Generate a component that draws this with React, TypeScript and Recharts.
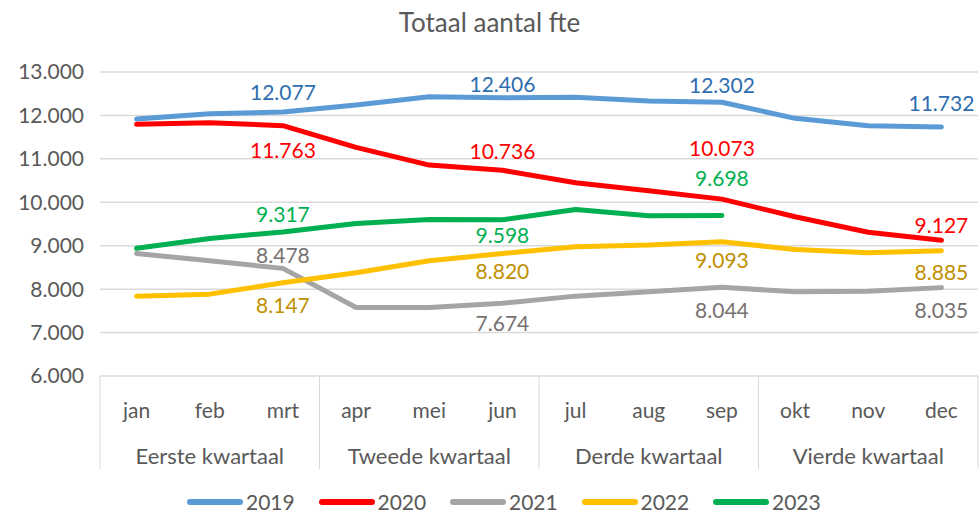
import React from 'react';
import { LineChart, Line, XAxis, YAxis, CartesianGrid, LabelList } from 'recharts';

const months = ['jan', 'feb', 'mrt', 'apr', 'mei', 'jun', 'jul', 'aug', 'sep', 'okt', 'nov', 'dec'];
const quarters = ['Eerste kwartaal', 'Tweede kwartaal', 'Derde kwartaal', 'Vierde kwartaal'];

const fte2019 = [11917, 12040, 12077, 12240, 12428, 12406, 12420, 12330, 12302, 11933, 11760, 11732];
const fte2020 = [11795, 11832, 11763, 11265, 10857, 10736, 10449, 10265, 10073, 9666, 9310, 9127];
const fte2021 = [8822, 8652, 8478, 7578, 7580, 7674, 7839, 7938, 8044, 7938, 7953, 8035];
const fte2022 = [7839, 7885, 8147, 8376, 8652, 8820, 8975, 9014, 9093, 8915, 8837, 8885];
const fte2023 = [8940, 9168, 9317, 9514, 9606, 9598, 9836, 9689, 9698, null, null, null];

const yTicks = [6000, 7000, 8000, 9000, 10000, 11000, 12000, 13000];

const series = [
  { key: 'y2019', name: '2019', values: fte2019, color: '#5B9BD5', labelColor: '#2E6DB0' },
  { key: 'y2020', name: '2020', values: fte2020, color: '#FF0000', labelColor: '#FF0000' },
  { key: 'y2021', name: '2021', values: fte2021, color: '#A5A5A5', labelColor: '#767171' },
  { key: 'y2022', name: '2022', values: fte2022, color: '#FFC000', labelColor: '#BF9000' },
  { key: 'y2023', name: '2023', values: fte2023, color: '#00B050', labelColor: '#00B050' },
];

// vertical shift of the quarter-end labels (mrt, jun, sep, dec), as placed in the original
const labelShift: Record<string, number[]> = {
  y2019: [-21, -14, -18, -25],
  y2020: [24, -20, -52, -16],
  y2021: [-14, 19, 22, 22],
  y2022: [22, 17, 18, 21],
  y2023: [-18, 15, -38],
};

const data = months.map((m, i) => {
  const row: any = { month: m, quarter: quarters[Math.floor(i / 3)] };
  series.forEach(s => { row[s.key] = s.values[i]; });
  return row;
});

const W = 979;
const H = 513;
const margin = { top: 72, right: 1, left: 0, bottom: 42 };
const yAxisWidth = 100;
const xAxisHeight = 95;
const band = (W - margin.left - margin.right - yAxisWidth) / months.length;
const FONT = 'Lato, "Open Sans", sans-serif';
const TEXT = '#595959';
const RULE = '#D9D9D9';

const fmt = (v: number) => Math.round(v).toString().replace(/\B(?=(\d{3})+(?!\d))/g, '.');

const MonthTick = ({ x, y, payload, index }: any) => {
  const i = payload?.index ?? index;
  const left = x - band / 2;
  return (
    <g>
      <text x={x} y={y + 33} textAnchor="middle" dominantBaseline="central" fill={TEXT} fontSize={21} fontFamily={FONT}>
        {payload.value}
      </text>
      {i % 3 === 0 && <line x1={left} x2={left} y1={y} y2={y + 93} stroke={RULE} strokeWidth={1} />}
      {i === months.length - 1 && <line x1={x + band / 2} x2={x + band / 2} y1={y} y2={y + 93} stroke={RULE} strokeWidth={1} />}
      {i % 3 === 1 && (
        <text x={x} y={y + 79} textAnchor="middle" dominantBaseline="central" fill={TEXT} fontSize={22} fontFamily={FONT}>
          {quarters[(i - 1) / 3]}
        </text>
      )}
    </g>
  );
};

const makeLabel = (key: string, color: string) => (props: any) => {
  const { index, value } = props;
  if (value == null || index % 3 !== 2) return null;
  const shift = labelShift[key][(index - 2) / 3];
  if (shift === undefined) return null;
  const px = props.x ?? props.viewBox?.x;
  const py = props.y ?? props.viewBox?.y;
  return (
    <text x={px} y={py + shift} textAnchor="middle" dominantBaseline="central" fill={color} fontSize={21} fontFamily={FONT}>
      {fmt(value)}
    </text>
  );
};

export default function App() {
  return (
    <div style={{ position: 'absolute', left: 0, top: 0, width: W, height: H, background: '#fff', fontFamily: FONT, overflow: 'hidden' }}>
      <div style={{ position: 'absolute', top: 6, left: 0, width: W, textAlign: 'center', fontSize: 26, lineHeight: '32px', color: TEXT }}>
        Totaal aantal fte
      </div>
      <LineChart width={W} height={H} data={data} margin={margin}>
        <CartesianGrid vertical={false} stroke={RULE} strokeWidth={1.5} />
        <XAxis
          dataKey="month"
          scale="band"
          height={xAxisHeight}
          axisLine={false}
          tickLine={false}
          tickSize={0}
          tickMargin={0}
          interval={0}
          tick={<MonthTick />}
        />
        <YAxis
          width={yAxisWidth}
          domain={[6000, 13000]}
          ticks={yTicks}
          axisLine={false}
          tickLine={false}
          tickSize={0}
          tickMargin={16}
          tickFormatter={fmt}
          tick={{ fill: TEXT, fontSize: 21, fontFamily: FONT }}
        />
        {series.map(s => (
          <Line
            key={s.key}
            dataKey={s.key}
            stroke={s.color}
            strokeWidth={5}
            strokeLinecap="round"
            strokeLinejoin="round"
            dot={false}
            activeDot={false}
            isAnimationActive={false}
          >
            <LabelList dataKey={s.key} content={makeLabel(s.key, s.labelColor)} />
          </Line>
        ))}
      </LineChart>
      <div style={{ position: 'absolute', top: 491, left: 187, height: 22, display: 'flex', alignItems: 'center' }}>
        {series.map(s => (
          <div key={s.key} style={{ display: 'flex', alignItems: 'center', width: 131.5, height: 22 }}>
            <div style={{ width: 56, height: 6, borderRadius: 3, background: s.color }} />
            <span style={{ marginLeft: 3, fontSize: 21, lineHeight: '22px', color: TEXT }}>{s.name}</span>
          </div>
        ))}
      </div>
    </div>
  );
}
